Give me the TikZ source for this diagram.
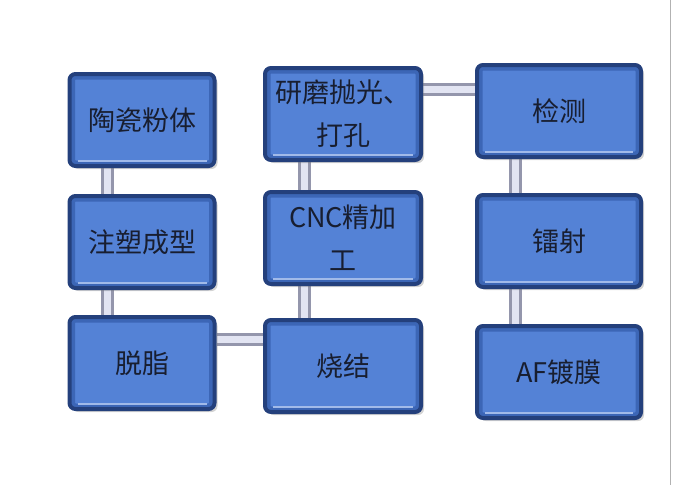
\documentclass[tikz,border=0pt]{standalone}
\usepackage{fontspec}
\newfontfamily\cjk{Noto Sans CJK SC}
\usetikzlibrary{shadows,backgrounds}
\definecolor{face}{RGB}{84,130,214}
\definecolor{rim}{RGB}{60,102,182}
\definecolor{rimdark}{RGB}{36,64,124}
\definecolor{pipegray}{RGB}{148,150,172}
\definecolor{pipelight}{RGB}{226,228,242}
\definecolor{ink}{RGB}{24,30,48}
\begin{document}
\begin{tikzpicture}[x=1pt,y=-1pt,
box/.style={rectangle,draw=rimdark,line width=4pt,fill=face,rounded corners=6pt,
	minimum height=92pt,inner sep=0pt,align=center,text=ink,
	font=\cjk\fontsize{27}{43}\selectfont,
	drop shadow={shadow xshift=3pt,shadow yshift=-3pt,opacity=0.35},
	path picture={
		\draw[rim,line width=5pt,rounded corners=3pt] ([shift={(3pt,-3pt)}]path picture bounding box.north west) rectangle ([shift={(-3pt,3pt)}]path picture bounding box.south east);
		\draw[white!70!face,line width=1.5pt] ([shift={(6pt,-1.5pt)}]path picture bounding box.north west) -- ([shift={(-6pt,-1.5pt)}]path picture bounding box.north east);
		\draw[white!45!face,line width=1.5pt] ([shift={(8pt,5pt)}]path picture bounding box.south west) -- ([shift={(-8pt,5pt)}]path picture bounding box.south east);
	}},
pipe/.style={line width=13pt,draw=pipegray,postaction={draw=pipelight,line width=7pt}}]
\useasboundingbox (0,0) rectangle (676,485);

\foreach \n/\x/\y/\w/\t in {powder/142/120/145/陶瓷粉体, molding/142/242/145/注塑成型, debind/142/363/145/脱脂,
	sinter/343/366/156/烧结, cnc/343/238/156/{CNC精加\\工}, polish/343/114/156/{研磨抛光、\\打孔},
	inspect/559/111/164/检测, laser/559/241/164/镭射, coating/559/372/164/AF镀膜}
	\node[box,minimum width=\w] (\n) at (\x,\y) {\t};

\begin{scope}[on background layer]
\draw[pipe] ([xshift=-35pt]powder.south) -- ([xshift=-35pt]molding.north);
\draw[pipe] ([xshift=-35pt]molding.south) -- ([xshift=-35pt]debind.north);
\draw[pipe] ([yshift=24pt]debind.east) -- ([yshift=27pt]sinter.west);
\draw[pipe] ([xshift=-39pt]sinter.north) -- ([xshift=-39pt]cnc.south);
\draw[pipe] ([xshift=-39pt]cnc.north) -- ([xshift=-39pt]polish.south);
\draw[pipe] ([yshift=25pt]polish.east) -- ([yshift=22pt]inspect.west);
\draw[pipe] ([xshift=-44pt]inspect.south) -- ([xshift=-44pt]laser.north);
\draw[pipe] ([xshift=-44pt]laser.south) -- ([xshift=-44pt]coating.north);
\end{scope}

% right edge of the page
\draw[gray!60,line width=1pt] (670,0) -- (670,485);
\end{tikzpicture}
\end{document}
